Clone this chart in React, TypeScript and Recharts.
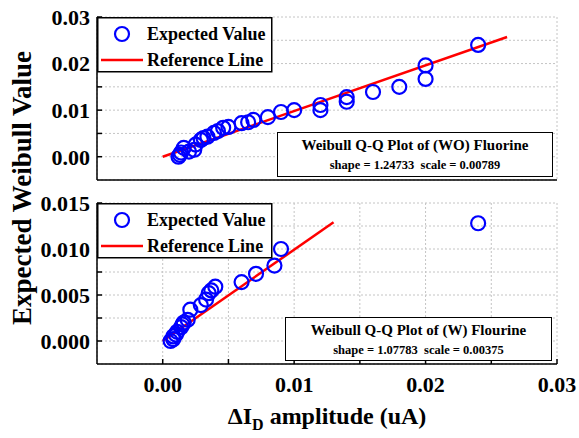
import React from "react";
import {
  ComposedChart,
  Scatter,
  Line,
  XAxis,
  YAxis,
  CartesianGrid,
} from "recharts";

// (WO) Fluorine — amplitude vs expected Weibull value
const woAmp = [
  0.0012, 0.0013, 0.0014, 0.0016, 0.002, 0.0024, 0.0025, 0.0029, 0.0031,
  0.0034, 0.0039, 0.0042, 0.0046, 0.005, 0.006, 0.0065, 0.0069, 0.008, 0.009,
  0.01, 0.012, 0.012, 0.014, 0.014, 0.016, 0.018, 0.02, 0.02, 0.024,
];
const woExpected = [
  0.0, 0.0004, 0.0009, 0.0019, 0.0011, 0.0015, 0.0026, 0.0036, 0.004, 0.0043,
  0.0051, 0.0055, 0.0062, 0.0064, 0.0072, 0.0074, 0.0079, 0.0085, 0.0096, 0.01,
  0.0111, 0.01, 0.0128, 0.0118, 0.0139, 0.015, 0.0196, 0.0167, 0.024,
];
const woRefX = [0, 0.0262];
const woRefY = [0, 0.0257];

// (W) Flourine
const wAmp = [
  0.0006, 0.0008, 0.0008, 0.001, 0.0011, 0.0014, 0.0015, 0.0016, 0.0019,
  0.0021, 0.0029, 0.0033, 0.0035, 0.0037, 0.004, 0.006, 0.0071, 0.0085, 0.009,
  0.024,
];
const wExpected = [
  0.0, 0.0002, 0.0005, 0.0007, 0.001, 0.0015, 0.0018, 0.002, 0.0023, 0.0034,
  0.0039, 0.0045, 0.0052, 0.0055, 0.0059, 0.0064, 0.0073, 0.0082, 0.01, 0.0128,
];
const wRefX = [0, 0.013];
const wRefY = [0, 0.0129];

const xTicks = [0, 0.005, 0.01, 0.015, 0.02, 0.025, 0.03];
const topYTicks = [0, 0.005, 0.01, 0.015, 0.02, 0.025, 0.03];
const bottomYTicks = [0, 0.0025, 0.005, 0.0075, 0.01, 0.0125, 0.015];

const FONT = '"Liberation Serif", "Times New Roman", serif';
const BLUE = "#0000ff";
const RED = "#ff0000";

const toPoints = (xs: number[], ys: number[]) =>
  xs.map((x, i) => ({ x, y: ys[i] }));

const ring = (props: any) => (
  <circle
    cx={props.cx}
    cy={props.cy}
    r={7}
    fill="none"
    stroke={BLUE}
    strokeWidth={2.2}
  />
);

const tickStyle = {
  fill: "#000",
  fontSize: 22,
  fontWeight: "bold",
  fontFamily: FONT,
};

const majorFmt = (step: number, digits: number) => (v: number) =>
  Math.abs(Math.round(v / step) * step - v) < 1e-9 ? v.toFixed(digits) : "";

// legend drawn in the overlay svg; top = top edge of the box
const LegendBox = ({ top }: { top: number }) => (
  <g fontFamily={FONT} fontWeight="bold" fontSize={18} fill="#000">
    <rect
      x={97.75}
      y={top + 0.75}
      width={174}
      height={54}
      fill="#fff"
      stroke="#000"
      strokeWidth={1.5}
    />
    <circle cx={122} cy={top + 17} r={7} fill="none" stroke={BLUE} strokeWidth={2.2} />
    <text x={147} y={top + 23}>Expected Value</text>
    <line x1={101} y1={top + 43} x2={143} y2={top + 43} stroke={RED} strokeWidth={2.5} />
    <text x={147} y={top + 49}>Reference Line</text>
  </g>
);

const InfoBox = ({
  left,
  top,
  width,
  height,
  title,
  sub,
}: {
  left: number;
  top: number;
  width: number;
  height: number;
  title: string;
  sub: string;
}) => (
  <div
    style={{
      position: "absolute",
      left,
      top,
      width,
      height,
      boxSizing: "border-box",
      border: "1.5px solid #000",
      background: "#fff",
      fontFamily: FONT,
      fontWeight: "bold",
      textAlign: "center",
      color: "#000",
      paddingTop: 1,
    }}
  >
    <div style={{ fontSize: 15, lineHeight: "22px" }}>{title}</div>
    <div style={{ fontSize: 12.5, lineHeight: "18px", whiteSpace: "pre" }}>{sub}</div>
  </div>
);

function Panel({
  height,
  marginTop,
  xAxisHeight,
  yDomain,
  yTicks,
  yFmt,
  points,
  refLine,
  showXLabels,
}: {
  height: number;
  marginTop: number;
  xAxisHeight: number;
  yDomain: [number, number];
  yTicks: number[];
  yFmt: (v: number) => string;
  points: { x: number; y: number }[];
  refLine: { x: number; y: number }[];
  showXLabels: boolean;
}) {
  return (
    <ComposedChart
      width={579}
      height={height}
      margin={{ top: marginTop, right: 22, bottom: 0, left: 0 }}
    >
      <CartesianGrid stroke="#c4c4c4" strokeDasharray="2 2" />
      <XAxis
        dataKey="x"
        type="number"
        domain={[-0.005, 0.03]}
        ticks={xTicks}
        allowDataOverflow
        height={xAxisHeight}
        tickSize={-5}
        tickMargin={17}
        tickLine={{ stroke: "#000", strokeWidth: 1.5 }}
        axisLine={{ stroke: "#000", strokeWidth: 1.5 }}
        tick={showXLabels ? tickStyle : false}
        tickFormatter={majorFmt(0.01, 2)}
        interval={0}
      />
      <XAxis
        xAxisId="top"
        orientation="top"
        type="number"
        domain={[-0.005, 0.03]}
        height={0}
        tick={false}
        tickLine={false}
        axisLine={{ stroke: "#000", strokeWidth: 1.5 }}
      />
      <YAxis
        dataKey="y"
        type="number"
        domain={yDomain}
        ticks={yTicks}
        allowDataOverflow
        width={97}
        tickSize={-5}
        tickMargin={12}
        tickLine={{ stroke: "#000", strokeWidth: 1.5 }}
        axisLine={{ stroke: "#000", strokeWidth: 1.5 }}
        tick={tickStyle}
        tickFormatter={yFmt}
        interval={0}
      />
      <YAxis
        yAxisId="right"
        orientation="right"
        type="number"
        domain={yDomain}
        width={0}
        tick={false}
        tickLine={false}
        axisLine={{ stroke: "#000", strokeWidth: 1.5 }}
      />
      <Line
        data={refLine}
        dataKey="y"
        stroke={RED}
        strokeWidth={2.5}
        dot={false}
        isAnimationActive={false}
      />
      <Scatter
        data={points}
        dataKey="y"
        shape={ring}
        isAnimationActive={false}
      />
    </ComposedChart>
  );
}

export default function App() {
  return (
    <div
      style={{
        position: "absolute",
        left: 0,
        top: 0,
        width: 579,
        height: 438,
        background: "#fff",
        overflow: "hidden",
      }}
    >
      <div style={{ position: "absolute", left: 0, top: 0 }}>
        <Panel
          height={200}
          marginTop={17}
          xAxisHeight={20}
          yDomain={[-0.005, 0.03]}
          yTicks={topYTicks}
          yFmt={majorFmt(0.01, 2)}
          points={toPoints(woAmp, woExpected)}
          refLine={toPoints(woRefX, woRefY)}
          showXLabels={false}
        />
      </div>
      <div style={{ position: "absolute", left: 0, top: 183 }}>
        <Panel
          height={255}
          marginTop={20}
          xAxisHeight={74}
          yDomain={[-0.0025, 0.015]}
          yTicks={bottomYTicks}
          yFmt={majorFmt(0.005, 3)}
          points={toPoints(wAmp, wExpected)}
          refLine={toPoints(wRefX, wRefY)}
          showXLabels={true}
        />
      </div>
      <InfoBox
        left={277}
        top={132}
        width={276}
        height={45}
        title="Weibull Q-Q Plot of (WO) Fluorine"
        sub="shape = 1.24733  scale = 0.00789"
      />
      <InfoBox
        left={285}
        top={317}
        width={267}
        height={44}
        title="Weibull Q-Q Plot of (W) Flourine"
        sub="shape = 1.07783  scale = 0.00375"
      />
      <svg
        width={579}
        height={438}
        style={{ position: "absolute", left: 0, top: 0, pointerEvents: "none" }}
      >
        <LegendBox top={17} />
        <LegendBox top={203} />
        <text
          transform="translate(31 188) rotate(-90)"
          textAnchor="middle"
          fontFamily={FONT}
          fontWeight="bold"
          fontSize={27}
          fill="#000"
        >
          Expected Weibull Value
        </text>
        <text
          x={327}
          y={424}
          textAnchor="middle"
          fontFamily={FONT}
          fontWeight="bold"
          fontSize={24}
          fill="#000"
        >
          ΔI
          <tspan fontSize={16} dy={6}>
            D
          </tspan>
          <tspan dy={-6}> amplitude (uA)</tspan>
        </text>
      </svg>
    </div>
  );
}
